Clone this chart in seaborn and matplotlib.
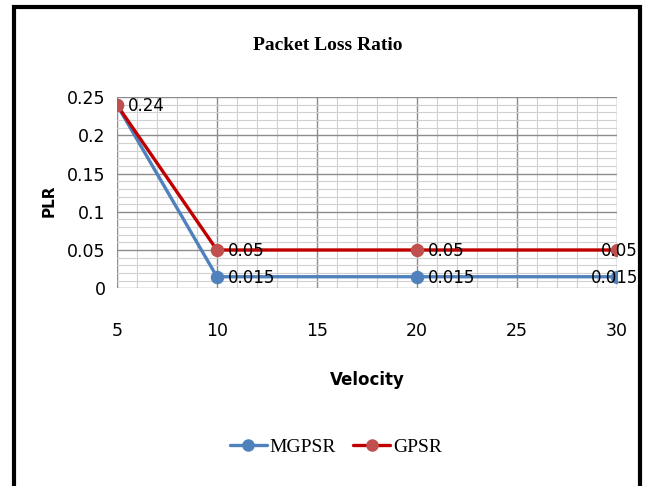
import matplotlib
matplotlib.use("Agg")
import matplotlib.pyplot as plt
import seaborn as sns
import pandas as pd
from matplotlib.ticker import MultipleLocator
from matplotlib.patches import Rectangle
from matplotlib.lines import Line2D

velocity = [5, 10, 20, 30]
mgpsr = [0.24, 0.015, 0.015, 0.015]
gpsr = [0.24, 0.05, 0.05, 0.05]
series_names = ["MGPSR", "GPSR"]
mgpsr_labels = ["", "0.015", "0.015", "0.015"]
gpsr_labels = ["0.24", "0.05", "0.05", "0.05"]

df = pd.DataFrame({
    "Velocity": velocity * 2,
    "PLR": mgpsr + gpsr,
    "Series": [series_names[0]] * len(velocity) + [series_names[1]] * len(velocity),
})

sns.set_style("white")
plt.rcParams["font.family"] = ["DejaVu Sans"]
plt.rcParams["text.color"] = "black"
plt.rcParams["axes.labelcolor"] = "black"
plt.rcParams["xtick.color"] = "black"
plt.rcParams["ytick.color"] = "black"

fig = plt.figure(figsize=(6.46, 4.86), dpi=100)
ax = fig.add_axes([0.181, 0.407, 0.774, 0.393])

ax.xaxis.set_minor_locator(MultipleLocator(1))
ax.yaxis.set_minor_locator(MultipleLocator(0.01))
ax.grid(which="minor", color="#d0d0d0", linewidth=0.8)
ax.grid(which="major", color="#8c8c8c", linewidth=1.0)
ax.set_axisbelow(True)

palette = {"MGPSR": "#4F81BD", "GPSR": "#C00000"}
sns.lineplot(data=df, x="Velocity", y="PLR", hue="Series", palette=palette,
             linewidth=2.4, legend=False, ax=ax, zorder=3)
ax.scatter(velocity, mgpsr, s=75, color="#4F81BD", zorder=4, label="_")
ax.scatter(velocity, gpsr, s=75, color="#C0504D", zorder=4, label="_")

last_x = max(velocity)


def label_points(xs, ys, labels):
    for x, y, t in zip(xs, ys, labels):
        if not t:
            continue
        if x == last_x:
            ax.annotate(t, (x, y), xytext=(15, -1), textcoords="offset points",
                        va="center", ha="right", fontsize=12, color="black", zorder=5)
        else:
            ax.annotate(t, (x, y), xytext=(8, -1), textcoords="offset points",
                        va="center", ha="left", fontsize=12, color="black", zorder=5)


label_points(velocity, mgpsr, mgpsr_labels)
label_points(velocity, gpsr, gpsr_labels)

ax.set_xlim(5, 30)
ax.set_ylim(0, 0.25)
ax.set_xticks([5, 10, 15, 20, 25, 30])
ax.set_yticks([0, 0.05, 0.1, 0.15, 0.2, 0.25])
ax.set_yticklabels(["0", "0.05", "0.1", "0.15", "0.2", "0.25"])
ax.tick_params(axis="both", which="both", length=0, labelsize=12.5, labelcolor="black")
ax.tick_params(axis="x", pad=24)
ax.tick_params(axis="y", pad=8)
for s in ax.spines.values():
    s.set_visible(False)

ax.set_xlabel("Velocity", fontsize=12, fontweight="bold", labelpad=23, color="black")
ax.set_ylabel("PLR", fontsize=11, fontweight="bold", color="black")
ax.yaxis.set_label_coords(-0.12, 0.46)

fig.text(0.508, 0.907, "Packet Loss Ratio", ha="center", va="center",
         fontsize=14, fontweight="bold", family=["Liberation Serif"], color="black")

handles = [
    Line2D([], [], color="#4F81BD", lw=2.4, marker="o", markersize=8,
           markerfacecolor="#4F81BD", markeredgecolor="#4F81BD"),
    Line2D([], [], color="#C00000", lw=2.4, marker="o", markersize=8,
           markerfacecolor="#C0504D", markeredgecolor="#C0504D"),
]
fig.legend(handles, series_names, loc="center", bbox_to_anchor=(0.52, 0.08), ncol=2,
           frameon=False, prop={"family": "Liberation Serif", "size": 14},
           handlelength=1.9, handletextpad=0.15, columnspacing=0.9)

fig.patches.append(Rectangle((0.021, -0.05), 0.970, 1.036, transform=fig.transFigure,
                             fill=False, edgecolor="black", linewidth=3))

fig.savefig("out.png", dpi=100)
